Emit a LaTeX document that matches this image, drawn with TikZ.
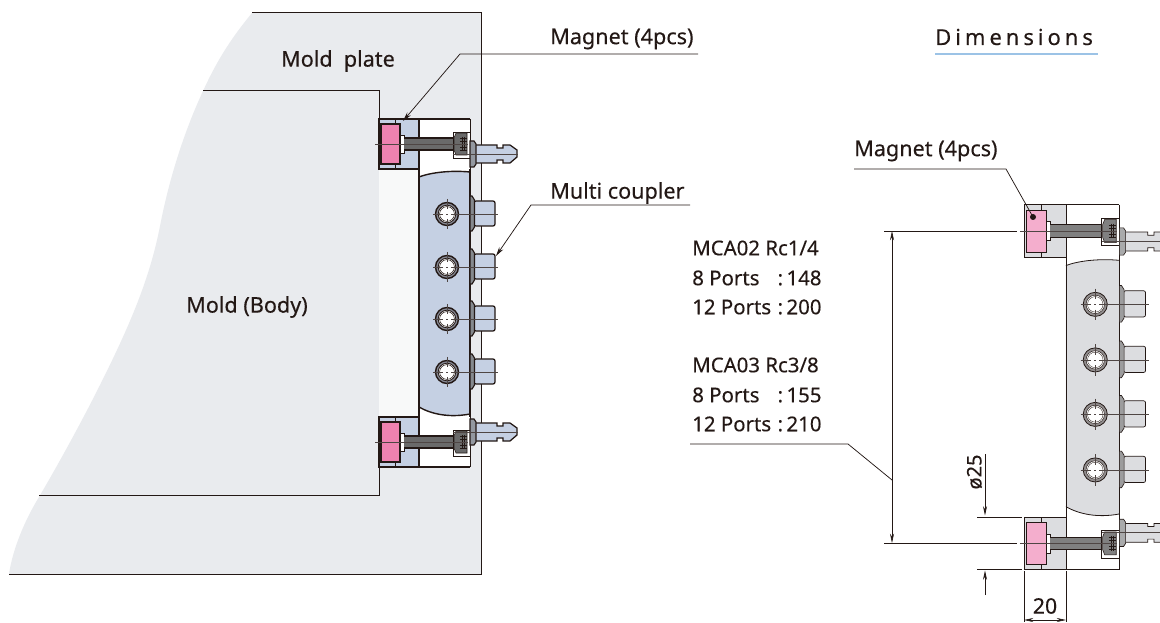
\documentclass[tikz,border=0pt]{standalone}
\usepackage{fontspec}
\setmainfont[FakeBold=0.25]{Noto Sans}
\usetikzlibrary{arrows.meta}
\definecolor{platefill}{HTML}{E9EBEE}
\definecolor{gapA}{HTML}{F8F9F9}
\definecolor{blueA}{HTML}{C5D0E3}
\definecolor{pinkA}{HTML}{EE82B0}
\definecolor{boltA}{HTML}{6A6A6A}
\definecolor{greyB}{HTML}{DCDDE0}
\definecolor{pinkB}{HTML}{F4AECD}
\definecolor{boltB}{HTML}{808080}
\definecolor{inkc}{HTML}{231815}
\definecolor{ulc}{HTML}{9CC3E6}
\tikzset{
 x=0.75pt,y=-0.75pt,
 lbl/.style={inner sep=0pt,font=\fontsize{16.2}{19}\selectfont,text=inkc},
 specl/.style={inner sep=0pt,anchor=west,font=\fontsize{15.3}{18}\selectfont,text=inkc},
 leader/.style={draw=inkc,line width=0.55pt},
 leadarrow/.style={leader,-{Stealth[length=7pt,width=3.5pt]}},
 dimline/.style={draw=inkc,line width=0.5pt},
 dimarrow/.style={dimline,-{Stealth[length=7pt,width=3pt]}},
 dimboth/.style={dimline,{Stealth[length=7pt,width=3pt]}-{Stealth[length=7pt,width=3pt]}},
 centerl/.style={draw=inkc!80,line width=0.5pt},
}
\newcommand{\specline}[2]{\makebox[64pt][l]{#1}:\hspace{2.6pt}#2}
% whole coupler in local px: origin = (wall x, top bolt centre y), bolt centres 298 apart
\newcommand{\coupler}[5]{% fill, pink, bolt, lw, gap fill
 \fill[white] (0,-25) rectangle (91,323);
 \fill[#5] (0,25) rectangle (40,273);
 \fill[#1] (40,33) .. controls (50,29) and (70,26) .. (91,28) -- (91,270) .. controls (70,274) and (52,270) .. (40,263) -- cycle;
 \draw[inkc,line width=#4] (40,33) .. controls (50,29) and (70,26) .. (91,28) (40,263) .. controls (52,270) and (70,274) .. (91,270);
 \draw[inkc,line width=#4] (40,25) -- (40,273) (91,-25) -- (91,323);
 % side fittings
 \foreach \yy in {70,123,175,228}{
  \fill[#1,draw=inkc,line width=#4*.9,rounded corners=1.5pt] (95,\yy-13) -- (116,\yy-13) -- (116,\yy+12) -- (95,\yy+12) -- cycle;
  \fill[#3!70!#1,draw=inkc,line width=#4*.8] (91,\yy-18) -- (93,\yy-18) -- (95.5,\yy-14) -- (95.5,\yy+13) -- (93,\yy+17) -- (91,\yy+17) -- cycle;
  \fill[inkc!40!#1] (68,\yy) circle (11.5);
  \draw[inkc,line width=#4] (68,\yy) circle (11.5);
  \fill[white,draw=inkc,line width=#4*.6] (68,\yy) circle (8.8);
  \draw[inkc,line width=#4*.4] (68,\yy) circle (7.4);
  \draw[centerl] (54,\yy) -- (64,\yy) (67,\yy) -- (69,\yy) (72,\yy) -- (119,\yy) (68,\yy-15) -- (68,\yy-5) (68,\yy+5) -- (68,\yy+15);
 }
 \foreach \cy/\qy in {0/10,298/-10}{
 \begin{scope}[shift={(0,\cy)}]
  \fill[#1] (0,-25) rectangle (40,25);
  \fill[white] (40,-25) rectangle (91,25);
  \draw[inkc,line width=#4] (0,-25) rectangle (40,25);
  \fill[white,draw=inkc,line width=.35pt] (21,-9) rectangle (25,9);
  \fill[#3] (25,-6) rectangle (76,6);
  \draw[inkc,line width=#4] (25,-6) -- (75,-6) (25,6) -- (75,6);
  \fill[#2,draw=inkc,line width=#4*.9] (2,-20) rectangle (21,20);
  \draw[inkc,line width=#4*.6] (16,-25) -- (16,-20) (16,20) -- (16,25);
  \fill[white,draw=inkc,line width=.4pt] (74,-12) rectangle (91,14);
  \fill[#3,draw=inkc,line width=.4pt] (75,-6) -- (77,-11) -- (88,-11) -- (88,11) -- (77,11) -- (75,6) -- cycle;
  \foreach \yy in {-6,-3,0,3,6}{\draw[inkc,line width=.3pt] (81,\yy) -- (88,\yy);}
  \foreach \xx in {83,85.5}{\draw[inkc,line width=.3pt] (\xx,-7) -- (\xx,7);}
  \draw[centerl] (-4,0) -- (89,0);
  % quick coupler
  \begin{scope}[shift={(0,\qy)}]
   \fill[#1,draw=inkc,line width=#4*.9] (96,-9) -- (118,-9) -- (118,-6) -- (124,-6) -- (124,-9) -- (131,-9) -- (138,-4) -- (138,3) -- (131,9) -- (124,9) -- (124,6) -- (118,6) -- (118,9) -- (96,9) -- cycle;
   \fill[#3!55!#1,draw=inkc,line width=#4*.8] (91,-13) -- (95,-13) -- (97,-10) -- (97,10) -- (95,13) -- (91,13) -- cycle;
   \draw[centerl] (74,0) -- (139,0);
  \end{scope}
 \end{scope}}
 \draw[inkc,line width=#4] (0,-25) -- (91,-25) (0,323) -- (91,323);
}
\begin{document}
\begin{tikzpicture}
\useasboundingbox (0,0) rectangle (1160,623);
\clip (0,0) rectangle (1160,623);
\fill[white] (0,0) rectangle (1160,623);
% left view
\fill[platefill] (252,13) .. controls (228,42) and (215,65) .. (203,91) .. controls (185,130) and (170,175) .. (160,226) .. controls (150,278) and (130,325) .. (100,385) .. controls (80,425) and (55,470) .. (39,497) .. controls (25,520) and (13,548) .. (9,574) -- (481,574) -- (481,13) -- cycle;
\draw[inkc,line width=.75pt] (252,13) -- (481,13) -- (481,574) -- (9,574);
\draw[inkc,line width=.75pt] (203,91) -- (379,91) -- (379,495) -- (39,495);
\begin{scope}[shift={(379,144)}]
 \coupler{blueA}{pinkA}{boltA}{1.05pt}{gapA}
\end{scope}
% right view
\begin{scope}[shift={(1024,231)},scale=1.048]
 \coupler{greyB}{pinkB}{boltB}{.6pt}{white}
\end{scope}
% title
\node[lbl,anchor=west] (tdim) at (935,37) {\fontsize{16.5}{19}\selectfont\addfontfeatures{LetterSpace=18}Dimensions};
\coordinate (ula) at (935,54); \coordinate (ulb) at (1098,54);
\draw[ulc,line width=1.5pt] (ula) -- (ulb);
% labels
\node[lbl] (mp) at (338,61) {Mold\ \ plate};
\node[lbl] (mb) at (247,307) {Mold (Body)};
\node[lbl,anchor=west] (m1) at (550,39) {Magnet (4pcs)};
\node[lbl,anchor=west] (mc) at (550,193) {Multi coupler};
\node[lbl,anchor=west] (m2) at (854,151) {Magnet (4pcs)};
\node[specl] (a1) at (692,248) {MCA02 Rc1/4};
\node[specl] (a2) at (692,278) {\specline{8 Ports}{148}};
\node[specl] (a3) at (692,307) {\specline{12 Ports}{200}};
\node[specl] (b1) at (692,365) {MCA03 Rc3/8};
\node[specl] (b2) at (692,395) {\specline{8 Ports}{155}};
\node[specl] (b3) at (692,424) {\specline{12 Ports}{210}};
\node[lbl,rotate=90,font=\fontsize{15}{18}\selectfont] (d25) at (974.5,472) {ø25};
\node[lbl,font=\fontsize{16}{19}\selectfont] (d20) at (1045,606) {20};
% leaders
\coordinate (l1a) at (698,54); \coordinate (l1b) at (460,54); \coordinate (l1c) at (403,121);
\draw[leadarrow] (l1a) -- (l1b) -- (l1c);
\coordinate (l2a) at (690,205); \coordinate (l2b) at (531,205); \coordinate (l2c) at (496,256);
\draw[leadarrow] (l2a) -- (l2b) -- (l2c);
\coordinate (l3a) at (854,169); \coordinate (l3b) at (1006,169); \coordinate (l3c) at (1033,217);
\draw[leader] (l3a) -- (l3b) -- (l3c);
\fill[inkc] (l3c) circle (3);
\coordinate (l4a) at (690,444); \coordinate (l4b) at (848,444); \coordinate (l4c) at (892,480);
\draw[leader] (l4a) -- (l4b) -- (l4c);
% dimensions
\coordinate (e1a) at (884,231); \coordinate (e1b) at (1017,231);
\coordinate (e2a) at (884,543); \coordinate (e2b) at (1017,543);
\draw[dimline] (e1a) -- (e1b) (e2a) -- (e2b);
\coordinate (v1) at (892,231); \coordinate (v2) at (892,543);
\draw[dimboth] (v1) -- (v2);
\coordinate (p1) at (977,517); \coordinate (p2) at (1022,517); \coordinate (p3) at (977,569); \coordinate (p4) at (1022,569);
\draw[dimline] (p1) -- (p2) (p3) -- (p4);
\coordinate (q1) at (985,454); \coordinate (q2) at (985,515.5); \coordinate (q3) at (985,595); \coordinate (q4) at (985,570.5);
\draw[dimarrow] (q1) -- (q2);
\draw[dimarrow] (q3) -- (q4);
\coordinate (r1) at (1024,571); \coordinate (r2) at (1024,622); \coordinate (r3) at (1066,571); \coordinate (r4) at (1066,622);
\draw[dimline] (r1) -- (r2) (r3) -- (r4);
\coordinate (s1) at (1024,620); \coordinate (s2) at (1066,620);
\draw[dimboth] (s1) -- (s2);
\end{tikzpicture}
\end{document}
